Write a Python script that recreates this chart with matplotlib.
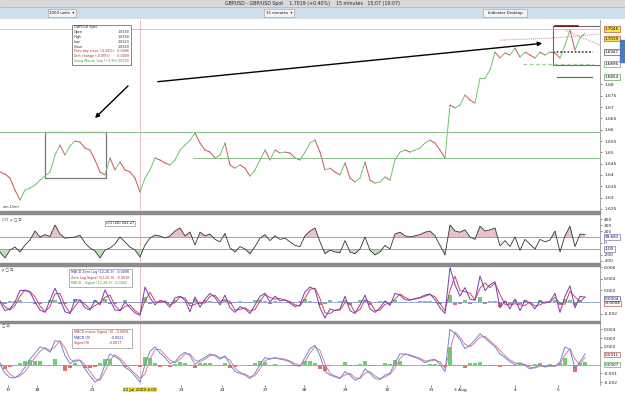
# -*- coding:utf-8 -*-
import matplotlib
matplotlib.use("Agg")
from matplotlib import pyplot as plt
from matplotlib.patches import Rectangle
import numpy as np

# closing prices, one sample every ~3 trading hours
close = [
    1.6413, 1.6404, 1.6386, 1.6333, 1.6289, 1.6333, 1.6342, 1.6355, 1.6377, 1.6395,
    1.6413, 1.6488, 1.6532, 1.6488, 1.6528, 1.6550, 1.6545, 1.6519, 1.6510, 1.6466,
    1.6413, 1.6400, 1.6475, 1.6422, 1.6457, 1.6422, 1.6413, 1.6386, 1.6324, 1.6386,
    1.6422, 1.6475, 1.6466, 1.6453, 1.6444, 1.6466, 1.6510, 1.6532, 1.6554, 1.6585,
    1.6541, 1.6510, 1.6501, 1.6475, 1.6488, 1.6541, 1.6444, 1.6430, 1.6444, 1.6430,
    1.6395, 1.6422, 1.6466, 1.6510, 1.6466, 1.6510, 1.6497, 1.6501, 1.6497, 1.6475,
    1.6466, 1.6501, 1.6541, 1.6554, 1.6501, 1.6422, 1.6430, 1.6413, 1.6400, 1.6453,
    1.6386, 1.6369, 1.6386, 1.6457, 1.6377, 1.6364, 1.6369, 1.6391, 1.6377, 1.6466,
    1.6501, 1.6510, 1.6501, 1.6510, 1.6519, 1.6541, 1.6554, 1.6541, 1.6510, 1.6475,
    1.6709, 1.6696, 1.6709, 1.6753, 1.6731, 1.6718, 1.6828, 1.6828, 1.6864, 1.6943,
    1.6917, 1.6939, 1.6930, 1.6961, 1.6921, 1.6943, 1.6930, 1.6917, 1.6943, 1.6930,
    1.6943, 1.6939, 1.6917, 1.6974, 1.7040, 1.6952, 1.7005, 1.7027,
]

cci = [
    -150, -250, -117, -67, -150, -33, 50, 200, 100, 140,
    110, 300, 150, 80, 90, 100, 130, 0, -83, -133,
    -250, -117, -83, -17, 100, 17, -67, -117, -233, -33,
    83, 133, 117, 83, 117, 200, 250, 117, 183, -33,
    180, 120, 150, 60, 20, 160, -80, -150, -60, -100,
    -180, -60, 80, 140, 40, 120, 60, 80, 20, -40,
    -60, 120, 200, 250, 20, -180, -120, -150, -160, 40,
    -150, -180, -100, 100, -120, -200, -150, -40, -100, 150,
    180, 120, 100, 120, 140, 180, 200, 120, -40, -200,
    300, 200, 180, 220, 100, 60, 280, 200, 220, 250,
    -50, 40, -60, 100, -120, 60, -20, -100, 60, 20,
    50, 200, -150, 120, 280, -60, 150, 140,
]

macd_zl = [
    0, -0.0015, -0.0012, 0.0000, 0.0020, 0.0020, 0.0017, 0.0000, -0.0014, -0.0018,
    0.0003, 0.0024, 0.0005, -0.0017, -0.0020, 0.0004, 0.0003, -0.0010, -0.0014, 0.0003,
    -0.0005, 0.0021, 0.0003, -0.0014, -0.0015, 0.0000, -0.0010, -0.0019, -0.0023, 0.0026,
    0.0007, -0.0005, 0.0003, 0.0000, -0.0009, 0.0007, 0.0010, 0.0003, -0.0017, 0.0009,
    -0.0009, 0.0005, 0.0015, 0.0008, -0.0005, 0.0012, -0.0010, -0.0018, -0.0008, -0.0012,
    -0.0020, -0.0005, 0.0010, 0.0015, 0.0000, 0.0010, 0.0002, 0.0004, -0.0002, -0.0008,
    -0.0005, 0.0018, 0.0026, 0.0022, -0.0010, -0.0028, -0.0012, -0.0015, -0.0012, 0.0010,
    -0.0015, -0.0020, -0.0005, 0.0012, -0.0012, -0.0018, -0.0010, 0.0002, -0.0006, 0.0015,
    0.0012, 0.0004, 0.0003, 0.0006, 0.0008, 0.0012, 0.0014, 0.0004, -0.0010, -0.0020,
    0.0060, 0.0030, 0.0010, 0.0025, 0.0005, 0.0003, 0.0045, 0.0020, 0.0030, 0.0035,
    -0.0010, 0.0002, -0.0012, 0.0005, -0.0015, 0.0003, -0.0002, -0.0012, 0.0002, -0.0002,
    0.0001, 0.0015, -0.0018, 0.0010, 0.0028, -0.0010, 0.0010, 0.0008,
]

signal_zl = [
    0.0002, -0.0008, -0.0014, -0.0006, 0.0010, 0.0021, 0.0018, 0.0009, -0.0007, -0.0017,
    -0.0008, 0.0014, 0.0015, -0.0006, -0.0019, -0.0008, 0.0004, -0.0004, -0.0012, -0.0006,
    -0.0001, 0.0008, 0.0012, -0.0006, -0.0015, -0.0008, -0.0005, -0.0015, -0.0021, 0.0002,
    0.0017, 0.0001, -0.0001, 0.0002, -0.0005, -0.0001, 0.0009, 0.0007, -0.0007, -0.0004,
    0.0000, -0.0002, 0.0010, 0.0012, 0.0001, 0.0004, 0.0001, -0.0014, -0.0013, -0.0010,
    -0.0016, -0.0013, 0.0002, 0.0013, 0.0008, 0.0005, 0.0006, 0.0003, 0.0001, -0.0005,
    -0.0007, 0.0006, 0.0022, 0.0024, 0.0006, -0.0019, -0.0020, -0.0014, -0.0014, -0.0001,
    -0.0003, -0.0018, -0.0013, 0.0004, 0.0000, -0.0015, -0.0014, -0.0004, -0.0002, 0.0005,
    0.0014, 0.0008, 0.0004, 0.0005, 0.0007, 0.0010, 0.0013, 0.0009, -0.0003, -0.0015,
    0.0020, 0.0045, 0.0020, 0.0018, 0.0015, 0.0004, 0.0024, 0.0033, 0.0025, 0.0033,
    0.0013, -0.0004, -0.0005, -0.0003, -0.0005, -0.0006, 0.0000, -0.0007, -0.0005, 0.0000,
    0.0000, 0.0008, -0.0002, -0.0004, 0.0019, 0.0009, 0.0000, 0.0009,
]

hist_zl = [
    -0.0001, -0.0003, 0.0001, 0.0002, 0.0004, 0, 0, -0.0004, -0.0003, 0,
    0.0004, 0.0004, -0.0004, -0.0004, 0, 0.0005, 0, -0.0002, -0.0001, 0.0004,
    -0.0002, 0.0005, -0.0004, -0.0003, 0, 0.0003, -0.0002, -0.0002, -0.0001, 0.0008,
    -0.0003, -0.0002, 0.0002, -0.0001, -0.0002, 0.0003, 0, -0.0002, -0.0004, 0.0005,
    -0.0003, 0.0003, 0.0002, -0.0002, -0.0002, 0.0003, -0.0004, -0.0002, 0.0002, -0.0001,
    -0.0002, 0.0003, 0.0003, 0.0001, -0.0003, 0.0002, -0.0002, 0, -0.0001, -0.0001,
    0.0001, 0.0005, 0.0002, -0.0001, -0.0006, -0.0004, 0.0003, 0, 0.0001, 0.0004,
    -0.0005, -0.0001, 0.0003, 0.0003, -0.0005, -0.0001, 0.0002, 0.0002, -0.0002, 0.0004,
    -0.0001, -0.0002, 0, 0, 0.0001, 0.0001, 0.0001, -0.0002, -0.0003, -0.0002,
    0.0012, -0.0005, -0.0004, 0.0003, -0.0004, 0, 0.0008, -0.0004, 0.0002, 0.0001,
    -0.0008, 0.0002, -0.0003, 0.0003, -0.0004, 0.0003, -0.0001, -0.0002, 0.0003, -0.0001,
    0, 0.0003, -0.0005, 0.0005, 0.0003, -0.0006, 0.0004, 0,
]

macd9 = [
    0, -0.0010, -0.0015, -0.0015, -0.0011, -0.0003, 0.0006, 0.0013, 0.0020, 0.0018,
    0.0014, 0.0027, 0.0026, 0.0010, 0.0001, 0.0005, 0.0005, -0.0005, -0.0013, -0.0020,
    -0.0016, 0.0000, 0.0012, 0.0009, 0.0005, -0.0003, -0.0007, -0.0013, -0.0020, 0.0000,
    0.0015, 0.0020, 0.0013, 0.0008, 0.0001, 0.0003, 0.0010, 0.0014, 0.0010, 0.0000,
    0.0005, 0.0008, 0.0012, 0.0010, 0.0006, 0.0010, 0.0000, -0.0008, -0.0010, -0.0012,
    -0.0016, -0.0010, 0.0000, 0.0008, 0.0006, 0.0008, 0.0006, 0.0005, 0.0003, -0.0001,
    -0.0002, 0.0008, 0.0018, 0.0022, 0.0010, -0.0008, -0.0012, -0.0014, -0.0016, -0.0008,
    -0.0012, -0.0018, -0.0015, -0.0005, -0.0010, -0.0016, -0.0017, -0.0012, -0.0010, 0.0002,
    0.0012, 0.0012, 0.0010, 0.0008, 0.0006, 0.0002, 0.0005, 0.0006, 0.0000, -0.0008,
    0.0040, 0.0035, 0.0028, 0.0018, 0.0022, 0.0028, 0.0035, 0.0030, 0.0025, 0.0020,
    0.0012, 0.0008, 0.0003, 0.0000, 0.0002, -0.0001, -0.0005, -0.0003, 0.0000, -0.0003,
    -0.0001, -0.0002, 0.0003, 0.0020, 0.0017, -0.0005, 0.0003, 0.0012,
]

signal9 = [
    0.0002, -0.0004, -0.0011, -0.0015, -0.0013, -0.0008, 0.0000, 0.0008, 0.0015, 0.0019,
    0.0016, 0.0020, 0.0027, 0.0019, 0.0006, 0.0003, 0.0005, 0.0000, -0.0008, -0.0016,
    -0.0018, -0.0008, 0.0005, 0.0011, 0.0007, 0.0001, -0.0005, -0.0010, -0.0016, -0.0011,
    0.0006, 0.0017, 0.0017, 0.0011, 0.0005, 0.0002, 0.0006, 0.0012, 0.0012, 0.0005,
    0.0003, 0.0006, 0.0010, 0.0011, 0.0008, 0.0008, 0.0005, -0.0004, -0.0009, -0.0011,
    -0.0014, -0.0013, -0.0005, 0.0004, 0.0007, 0.0007, 0.0007, 0.0006, 0.0004, 0.0001,
    -0.0001, 0.0003, 0.0013, 0.0020, 0.0016, 0.0001, -0.0010, -0.0013, -0.0015, -0.0012,
    -0.0010, -0.0015, -0.0016, -0.0010, -0.0008, -0.0013, -0.0016, -0.0014, -0.0011, -0.0004,
    0.0007, 0.0012, 0.0011, 0.0009, 0.0007, 0.0004, 0.0004, 0.0005, 0.0003, -0.0004,
    0.0016, 0.0037, 0.0031, 0.0023, 0.0020, 0.0025, 0.0031, 0.0032, 0.0027, 0.0022,
    0.0016, 0.0010, 0.0005, 0.0002, 0.0001, 0.0000, -0.0003, -0.0004, -0.0002, -0.0002,
    -0.0002, -0.0002, 0.0001, 0.0011, 0.0018, 0.0006, 0.0000, 0.0008,
]

hist9 = [
    -0.0002, -0.0005, -0.0003, 0, 0.0002, 0.0004, 0.0005, 0.0004, 0.0004, -0.0001,
    -0.0002, 0.0006, -0.0001, -0.0007, -0.0004, 0.0002, 0, -0.0004, -0.0004, -0.0003,
    0.0002, 0.0006, 0.0006, -0.0002, -0.0002, -0.0003, -0.0002, -0.0002, -0.0003, 0.0009,
    0.0007, 0.0002, -0.0003, -0.0002, -0.0003, 0.0001, 0.0003, 0.0002, -0.0002, -0.0004,
    0.0002, 0.0002, 0.0002, -0.0001, -0.0002, 0.0002, -0.0004, -0.0003, -0.0001, -0.0001,
    -0.0002, 0.0002, 0.0004, 0.0003, -0.0001, 0.0001, -0.0001, -0.0001, -0.0001, -0.0002,
    -0.0001, 0.0004, 0.0004, 0.0002, -0.0005, -0.0007, -0.0002, -0.0001, -0.0001, 0.0003,
    -0.0002, -0.0002, 0.0001, 0.0004, -0.0002, -0.0002, -0.0001, 0.0002, 0.0001, 0.0005,
    0.0004, 0, -0.0001, -0.0001, -0.0001, -0.0002, 0.0001, 0.0001, -0.0002, -0.0003,
    0.0020, -0.0002, -0.0002, -0.0004, 0.0002, 0.0002, 0.0003, -0.0002, -0.0002, -0.0002,
    -0.0003, -0.0002, -0.0002, -0.0002, 0.0001, -0.0001, -0.0002, 0.0001, 0.0002, -0.0001,
    0.0001, 0, 0.0002, 0.0007, -0.0001, -0.0009, 0.0002, 0.0003,
]

# x tick labels (positions in samples)
date_pos = [1.6, 7.4, 18.4, 36.2, 44.4, 53, 60.8, 69, 77.4, 86.2, 92, 103, 111.6]
date_lbl = ["17", "18", "21", "23", "24", "27", "28", "29", "30", "31", "3 Aug", "4", "5"]

W, H = 625, 394
GREEN = "#6cc56c"
RED = "#c8555a"
ICONS = "ρ ▢ ⊡"


def px_axes(fig, x0, y0, x1, y1):
    return fig.add_axes([x0 / W, 1 - y1 / H, (x1 - x0) / W, (y1 - y0) / H])


def style_panel(ax, ylim, ticks, labels):
    ax.set_xlim(0, 120)
    ax.set_ylim(*ylim)
    ax.set_facecolor("white")
    for s in ["top", "left", "bottom"]:
        ax.spines[s].set_visible(False)
    ax.spines["right"].set_color("#999999")
    ax.spines["right"].set_linewidth(0.6)
    ax.yaxis.tick_right()
    ax.set_yticks(ticks)
    ax.set_yticklabels(labels)
    ax.tick_params(axis="y", labelsize=3.2, length=1.5, width=0.4, pad=1.5, colors="#222222")
    ax.set_xticks([])
    ax.axvline(28, color="#e2b5b5", lw=0.6, zorder=0)


fig = plt.figure(figsize=(6.25, 3.94), dpi=100)
fig.patch.set_facecolor("white")

# title bar and toolbar
top = px_axes(fig, 0, 0, 625, 19)
top.set_xlim(0, 625)
top.set_ylim(19, 0)
top.axis("off")
top.add_patch(Rectangle((0, 0), 625, 7, color="#d9d9d9"))
top.add_patch(Rectangle((0, 7), 625, 12, color="#cfdfea"))
top.plot([0, 625], [7, 7], color="#a9a9a9", lw=0.4)
top.plot([0, 625], [19, 19], color="#8fa6b6", lw=0.6)
top.text(312, 3.5, "GBPUSD - GBP/USD Spot    1.7019 (+0.40%)    15 minutes   15:07 (19:07)",
         ha="center", va="center", fontsize=3.4, color="#222222")
for (x0, x1, txt) in [(48, 76, "1000 units  ▾"), (264, 294, "15 minutes  ▾"), (483, 527, "Indicator Desktop")]:
    top.add_patch(Rectangle((x0, 9), x1 - x0, 8, facecolor="#f4f4f4", edgecolor="#9a9a9a", lw=0.4))
    top.text((x0 + x1) / 2, 13, txt, ha="center", va="center", fontsize=2.8, color="#111111")

t = np.arange(len(close))

# ---------------- main price panel ----------------
ax = px_axes(fig, 0, 20, 600, 210)
pticks = [1.625, 1.63, 1.635, 1.64, 1.645, 1.65, 1.655, 1.66, 1.665, 1.67, 1.675, 1.68]
plabels = ["1.625", "1.63", "1.635", "1.64", "1.645", "1.65", "1.655", "1.66", "1.665", "1.67", "1.675", "1.68"]
style_panel(ax, (1.6245, 1.7085), pticks, plabels)

for i in range(len(close) - 1):
    c = GREEN if close[i + 1] >= close[i] else RED
    ax.plot(t[i:i + 2], close[i:i + 2], color=c, lw=0.7, solid_capstyle="round")

ax.axhline(1.7045, color="#e2b5b5", lw=0.6)
ax.axhline(1.6590, color="#8cc08c", lw=0.7)
ax.plot([38.6, 120], [1.6475, 1.6475], color="#8cc08c", lw=0.7)

ax.add_patch(Rectangle((9, 1.6386), 12.2, 0.0204, fill=False, ec="#7a7a7a", lw=0.9))
ax.add_patch(Rectangle((110.5, 1.6886), 9.6, 0.0172, fill=False, ec="#6a6a6a", lw=0.8))
ax.plot([111, 115.6], [1.7058, 1.7058], color="#7a1010", lw=1.2)
ax.plot([110.6, 118.5], [1.6943, 1.6943], color="#555555", lw=1.3, ls=(0, (1, 1)))
ax.plot([104.6, 118.6], [1.6890, 1.6890], color="#9ad29a", lw=0.9, ls=(0, (3, 2)))
ax.plot([111.4, 118.4], [1.6833, 1.6833], color="#3a8a3a", lw=0.9)
ax.plot([100, 110.4], [1.6996, 1.7005], color="#d08a8a", lw=0.7, ls=(0, (1, 1)))
ax.plot([110.4, 120], [1.7005, 1.7023], color="#d08a8a", lw=0.7, ls=(0, (1, 1)))
ax.plot([113, 120], [1.7040, 1.6974], color="#d08a8a", lw=0.7, ls=(0, (1, 1)))

ax.annotate("", xy=(18.6, 1.6643), xytext=(26, 1.6802),
            arrowprops=dict(arrowstyle="-|>", color="black", lw=1.0, mutation_scale=6))
ax.annotate("", xy=(109, 1.6983), xytext=(31, 1.6811),
            arrowprops=dict(arrowstyle="-|>", color="black", lw=1.0, mutation_scale=6))

# data window box
ax.add_patch(Rectangle((0.12, 0.763), 0.098, 0.211, transform=ax.transAxes,
                       facecolor="white", edgecolor="#555555", lw=0.5, zorder=5))
rows = [("GBPUSD Spot", "", "#222222"), ("Open", "1.6330", "#222222"), ("High", "1.6330", "#222222"),
        ("Low", "1.6323", "#222222"), ("Close", "1.6329", "#222222"),
        ("Prev day close (-0.02%)", "-0.0006", "#b03030"), ("Unit change (-0.00%)", "-0.0009", "#b03030"),
        ("Using Mouse Sup (+1.9%)", "1.0590", "#3aa03a")]
for k, (a, b, col) in enumerate(rows):
    yy = 0.962 - k * 0.0255
    ax.text(0.123, yy, a, transform=ax.transAxes, fontsize=2.4, color=col, va="center", zorder=6)
    ax.text(0.216, yy, b, transform=ax.transAxes, fontsize=2.4, color=col, va="center", ha="right", zorder=6)

ax.text(0.004, 0.01, "a.m.15m+", transform=ax.transAxes, fontsize=2.4, color="#333333")

# boxed price labels on the right
for (pv, txt, fc, ec) in [(1.7045, "1.7045", "#f5e642", "#b03030"), (1.7003, "1.7019", "#f5e642", "#b03030"),
                          (1.6943, "1.6947", "white", "#333333"), (1.6890, "1.6895", "white", "#3a8a3a"),
                          (1.6833, "1.6854", "white", "#3a8a3a")]:
    ax.text(1.008, pv, txt, transform=ax.get_yaxis_transform(), fontsize=3.0, va="center", ha="left",
            bbox=dict(boxstyle="square,pad=0.15", fc=fc, ec=ec, lw=0.4), clip_on=False)

# ---------------- CCI panel ----------------
ax2 = px_axes(fig, 0, 215, 600, 262)
style_panel(ax2, (-317, 467), [400, 300, 200, 0, -200, -300], ["400", "300", "200", "0", "-200", "-300"])
cci_a = np.array(cci, dtype=float)
ax2.fill_between(t, 100, cci_a, where=cci_a > 100, interpolate=True, color="#e7c2c6", lw=0)
ax2.fill_between(t, -100, cci_a, where=cci_a < -100, interpolate=True, color="#bfe0bf", lw=0)
ax2.axhline(100, color="#9a9ad0", lw=0.7)
ax2.axhline(-100, color="#9a9ad0", lw=0.7)
ax2.plot(t, cci_a, color="#333333", lw=0.6)
ax2.text(0.2, 0.82, "CCI (20) 102.27", transform=ax2.transAxes, fontsize=2.6, ha="center", va="center",
         bbox=dict(boxstyle="square,pad=0.2", fc="white", ec="#777777", lw=0.4))
ax2.text(0.003, 0.9, "CCI  " + ICONS, transform=ax2.transAxes, fontsize=2.6, va="center", color="#333333")
for (pv, txt) in [(100, "99.681"), (-100, "-100")]:
    ax2.text(1.008, pv, txt, transform=ax2.get_yaxis_transform(), fontsize=3.0, va="center", ha="left",
             bbox=dict(boxstyle="square,pad=0.15", fc="white", ec="#5555aa", lw=0.4), clip_on=False)

# ---------------- MACD zero lag panel ----------------
ax3 = px_axes(fig, 0, 266, 600, 320)
style_panel(ax3, (-0.00313, 0.00626), [0.006, 0.004, 0.002, -0.002], ["0.006", "0.004", "0.002", "-0.002"])
h1 = np.array(hist_zl)
ax3.bar(t, h1, width=0.9, color=np.where(h1 >= 0, "#6fcf6f", "#e07070"), lw=0)
ax3.axhline(0, color="#8aa0c8", lw=0.6)
ax3.plot(t, signal_zl, color="#d04070", lw=0.7)
ax3.plot(t, macd_zl, color="#7a3ab0", lw=0.7)
ax3.add_patch(Rectangle((0.115, 0.62), 0.105, 0.33, transform=ax3.transAxes, fc="white", ec="#777777", lw=0.4))
for k, (txt, col) in enumerate([("MACD Zero Lag (12,26,9)  -0.0006", "#3030a0"),
                                ("Zero Lag Signal (12,26,9)  -0.0010", "#b03030"),
                                ("MACD - Signal (12,26,9)   0.0002", "#3aa03a")]):
    ax3.text(0.118, 0.89 - k * 0.105, txt, transform=ax3.transAxes, fontsize=2.4, color=col, va="center")
ax3.text(0.003, 0.93, ICONS, transform=ax3.transAxes, fontsize=2.6, va="center", color="#333333")
for (pv, txt, ec) in [(0.0006, "0.0004", "#3030a0"), (-0.0002, "-0.0004", "#b03030")]:
    ax3.text(1.008, pv, txt, transform=ax3.get_yaxis_transform(), fontsize=3.0, va="center", ha="left",
             bbox=dict(boxstyle="square,pad=0.15", fc="white", ec=ec, lw=0.4), clip_on=False)

# ---------------- MACD(9) panel ----------------
ax4 = px_axes(fig, 0, 323, 600, 385)
style_panel(ax4, (-0.00233, 0.00472), [0.004, 0.003, 0.002, -0.001, -0.002],
            ["0.004", "0.003", "0.002", "-0.001", "-0.002"])
h2 = np.array(hist9)
ax4.bar(t, h2, width=0.9, color=np.where(h2 >= 0, "#6fcf6f", "#e07070"), lw=0)
ax4.axhline(0, color="#8aa0c8", lw=0.6)
ax4.plot(t, signal9, color="#d77fa1", lw=0.7)
ax4.plot(t, macd9, color="#7585cc", lw=0.7)
ax4.add_patch(Rectangle((0.12, 0.6), 0.1, 0.3, transform=ax4.transAxes, fc="white", ec="#777777", lw=0.4))
for k, (txt, col) in enumerate([("MACD minus Signal (9)  -0.0004", "#b03030"),
                                ("MACD (9)                  -0.0021", "#3030a0"),
                                ("Signal(9)                 -0.0017", "#b03030")]):
    ax4.text(0.123, 0.85 - k * 0.09, txt, transform=ax4.transAxes, fontsize=2.4, color=col, va="center")
ax4.text(0.003, 0.94, "▢ ⊡", transform=ax4.transAxes, fontsize=2.6, va="center", color="#333333")
for (pv, txt, ec) in [(0.0011, "0.0011", "#b03030"), (0.0, "0.0007", "#3aa03a")]:
    ax4.text(1.008, pv, txt, transform=ax4.get_yaxis_transform(), fontsize=3.0, va="center", ha="left",
             bbox=dict(boxstyle="square,pad=0.15", fc="white", ec=ec, lw=0.4), clip_on=False)

ax4.set_xticks(date_pos)
ax4.set_xticklabels(date_lbl)
ax4.tick_params(axis="x", labelsize=3.2, length=1.5, width=0.4, pad=1, colors="#222222")
ax4.text(28, -0.00262, "22 Jul 2009 4:00", fontsize=3.0, ha="center", va="top",
         bbox=dict(boxstyle="square,pad=0.1", fc="#f5e642", ec="none"), clip_on=False)

# panel dividers
ov = px_axes(fig, 0, 0, 625, 394)
ov.set_xlim(0, 625)
ov.set_ylim(394, 0)
ov.axis("off")
ov.patch.set_alpha(0)
for y0 in [211, 263, 320.5]:
    ov.add_patch(Rectangle((0, y0), 600, 2.5, color="#8c8c8c"))
ov.add_patch(Rectangle((620, 40), 5, 22, color="#4a7ab8"))

fig.savefig("out.png", dpi=100)
